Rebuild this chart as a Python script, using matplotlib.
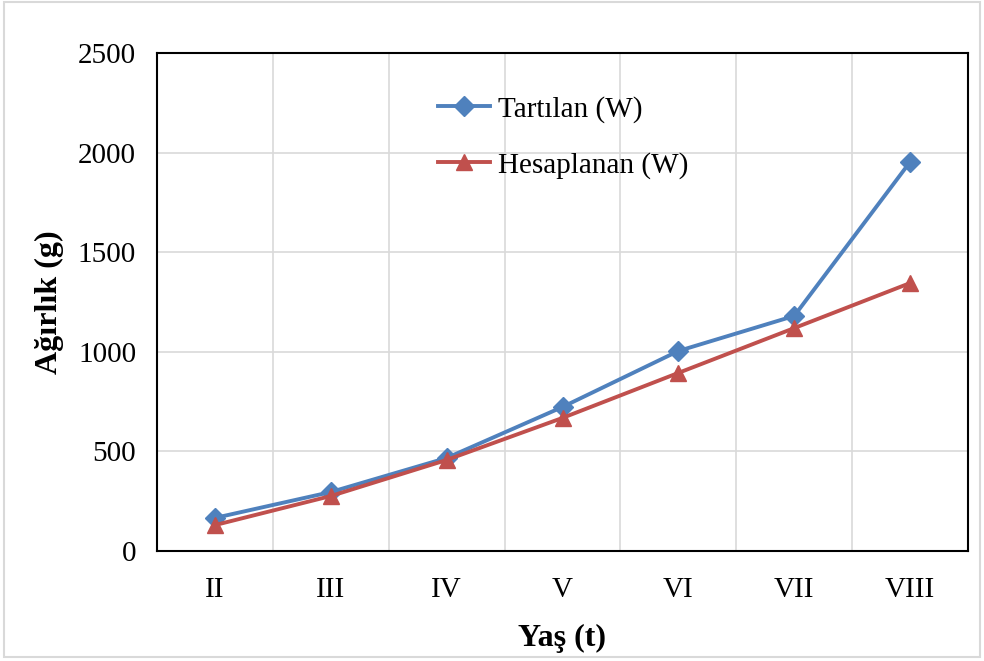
import matplotlib.pyplot as plt
from matplotlib.patches import Rectangle

plt.rcParams['font.family'] = ['Liberation Serif', 'DejaVu Serif']

categories = ['II', 'III', 'IV', 'V', 'VI', 'VII', 'VIII']
tartilan = [166, 296, 467, 723, 1004, 1180, 1953]
hesaplanan = [130, 276, 457, 668, 894, 1119, 1345]

fig = plt.figure(figsize=(9.84, 6.61), dpi=100)
ax = fig.add_axes([157 / 984, 1 - 551 / 661, (968 - 157) / 984, (551 - 53) / 661])

x = list(range(len(categories)))
ax.plot(x, tartilan, color='#4F81BD', lw=2.8, marker='D', ms=10,
        label='Tartılan (W)', zorder=3)
ax.plot(x, hesaplanan, color='#C0504D', lw=2.8, marker='^', ms=12,
        label='Hesaplanan (W)', zorder=3)

ax.set_xlim(-0.5, len(categories) - 0.5)
ax.set_ylim(0, 2500)
ax.set_yticks(range(0, 2501, 500))
ax.set_xticks(x)
ax.set_xticklabels(categories)
ax.set_xticks([i + 0.5 for i in x[:-1]], minor=True)
ax.grid(True, which='major', axis='y', color='#D9D9D9', lw=1.2)
ax.grid(True, which='minor', axis='x', color='#D9D9D9', lw=1.2)
ax.set_axisbelow(True)
ax.tick_params(which='both', length=0, labelsize=21)
ax.tick_params(axis='x', pad=19)
ax.tick_params(axis='y', pad=15)
for s in ax.spines.values():
    s.set_color('black')
    s.set_linewidth(1.5)

ax.set_ylabel('Ağırlık (g)', fontsize=23, fontweight='bold', labelpad=10)
ax.set_xlabel('Yaş (t)', fontsize=23, fontweight='bold', labelpad=15)

ax.legend(loc='upper left', bbox_to_anchor=(0.314, 0.967), frameon=False,
          fontsize=21, labelspacing=1.0, handlelength=1.8, handletextpad=0.25)

fig.patches.append(Rectangle((4 / 984, 4 / 661), 976 / 984, 655 / 661,
                             transform=fig.transFigure, fill=False,
                             edgecolor='#D9D9D9', lw=1.5))

fig.savefig('out.png', dpi=100)
